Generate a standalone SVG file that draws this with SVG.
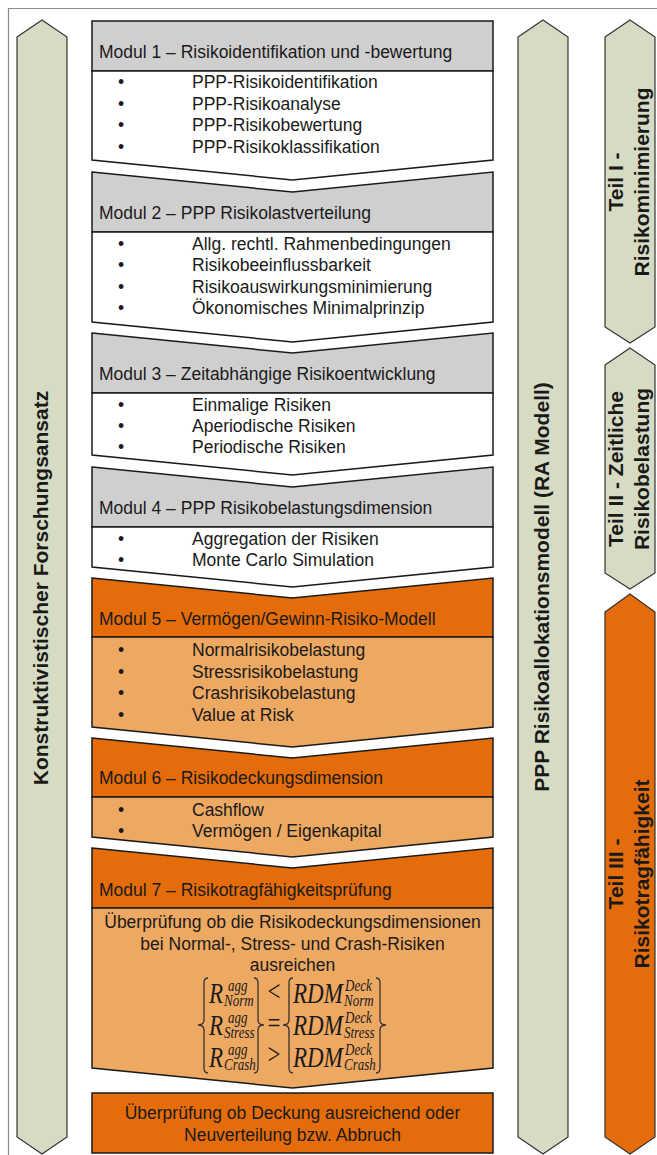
<svg xmlns="http://www.w3.org/2000/svg" width="657" height="1155" viewBox="0 0 657 1155">
  <style>
    .frame{fill:none;stroke:#8c8c8c;stroke-width:1.2}
    .arrow{fill:#d6dbc3;stroke:#333;stroke-width:1.2}
    .arrow-or{fill:#e46c0a;stroke:#333;stroke-width:1.2}
    .hd-gray{fill:#d0cfcf;stroke:#1a1a1a;stroke-width:1.5;stroke-linejoin:miter}
    .bd-white{fill:#fff;stroke:#1a1a1a;stroke-width:1.5}
    .hd-or{fill:#e46c0a;stroke:#1a1a1a;stroke-width:1.5}
    .bd-or{fill:#eda862;stroke:#1a1a1a;stroke-width:1.5}
    text{font-family:"Liberation Sans",Arial,sans-serif;fill:#1a1a1a}
    .t{font-size:17.5px}
    .c{font-size:17.5px;text-anchor:middle}
    .b{font-size:17.5px;text-anchor:middle}
    .rot{font-size:21px;font-weight:bold;text-anchor:middle}
    .m{font-family:"Liberation Serif","Times New Roman",serif;font-style:italic;font-size:23px}
    .ms{font-family:"Liberation Serif","Times New Roman",serif;font-style:italic;font-size:13px}
    .mo{font-family:"Liberation Serif","Times New Roman",serif;font-size:23px;text-anchor:middle}
    .brace{fill:none;stroke:#333;stroke-width:1.3}
  </style>

  <!-- outer frame (only top and left edges fall inside the page) -->
  <path class="frame" d="M8.5,1155 V8.5 H657"/>

  <!-- left column arrow -->
  <g id="forschungsansatz">
    <path class="arrow" d="M17,37 L42,20 L67,37 V1137 L42,1154 L17,1137 Z"/>
    <text class="rot" transform="translate(42,588) rotate(-90)" y="6">Konstruktivistischer Forschungsansatz</text>
  </g>

  <!-- model arrow -->
  <g id="ra-modell">
    <path class="arrow" d="M518,37 L543,20 L568,37 V1137 L543,1154 L518,1137 Z"/>
    <text class="rot" transform="translate(543,587) rotate(-90)" y="6">PPP Risikoallokationsmodell (RA Modell)</text>
  </g>

  <!-- parts -->
  <g id="teil-1">
    <path class="arrow" d="M605,37 L630,20 L655,37 V327 L630,343 L605,327 Z"/>
    <text class="rot" transform="translate(630,182) rotate(-90)"><tspan x="0" y="-7">Teil I -</tspan><tspan x="0" y="19">Risikominimierung</tspan></text>
  </g>
  <g id="teil-2">
    <path class="arrow" d="M605,365 L630,348 L655,365 V573 L630,589 L605,573 Z"/>
    <text class="rot" transform="translate(630,469) rotate(-90)"><tspan x="0" y="-7">Teil II - Zeitliche</tspan><tspan x="0" y="19">Risikobelastung</tspan></text>
  </g>
  <g id="teil-3">
    <path class="arrow-or" d="M605,612 L630,594 L655,612 V1137 L630,1154 L605,1137 Z"/>
    <text class="rot" transform="translate(630,874) rotate(-90)"><tspan x="0" y="-7">Teil III -</tspan><tspan x="0" y="19">Risikotragfähigkeit</tspan></text>
  </g>

  <!-- Modul 1 -->
  <g id="modul-1">
    <path class="hd-gray" d="M92,21 H493 V71 H92 Z"/>
    <path class="bd-white" d="M92,71 H493 V160 L292.5,180 L92,160 Z"/>
    <text class="t" x="99" y="58">Modul 1 – Risikoidentifikation und -bewertung</text>
    <text class="b" x="121" y="88">•</text><text class="t" x="192" y="88">PPP-Risikoidentifikation</text>
    <text class="b" x="121" y="109.5">•</text><text class="t" x="192" y="109.5">PPP-Risikoanalyse</text>
    <text class="b" x="121" y="131">•</text><text class="t" x="192" y="131">PPP-Risikobewertung</text>
    <text class="b" x="121" y="152.5">•</text><text class="t" x="192" y="152.5">PPP-Risikoklassifikation</text>
  </g>

  <!-- Modul 2 -->
  <g id="modul-2">
    <path class="hd-gray" d="M92,172 L292.5,192 L493,172 V232 H92 Z"/>
    <path class="bd-white" d="M92,232 H493 V322 L292.5,342 L92,322 Z"/>
    <text class="t" x="99" y="219">Modul 2 – PPP Risikolastverteilung</text>
    <text class="b" x="121" y="249.5">•</text><text class="t" x="192" y="249.5">Allg. rechtl. Rahmenbedingungen</text>
    <text class="b" x="121" y="271">•</text><text class="t" x="192" y="271">Risikobeeinflussbarkeit</text>
    <text class="b" x="121" y="292.5">•</text><text class="t" x="192" y="292.5">Risikoauswirkungsminimierung</text>
    <text class="b" x="121" y="314">•</text><text class="t" x="192" y="314">Ökonomisches Minimalprinzip</text>
  </g>

  <!-- Modul 3 -->
  <g id="modul-3">
    <path class="hd-gray" d="M92,333 L292.5,353 L493,333 V393 H92 Z"/>
    <path class="bd-white" d="M92,393 H493 V455 L292.5,475 L92,455 Z"/>
    <text class="t" x="99" y="380">Modul 3 – Zeitabhängige Risikoentwicklung</text>
    <text class="b" x="121" y="411">•</text><text class="t" x="192" y="411">Einmalige Risiken</text>
    <text class="b" x="121" y="432">•</text><text class="t" x="192" y="432">Aperiodische Risiken</text>
    <text class="b" x="121" y="453">•</text><text class="t" x="192" y="453">Periodische Risiken</text>
  </g>

  <!-- Modul 4 -->
  <g id="modul-4">
    <path class="hd-gray" d="M92,467 L292.5,487 L493,467 V527 H92 Z"/>
    <path class="bd-white" d="M92,527 H493 V567 L292.5,587 L92,567 Z"/>
    <text class="t" x="99" y="514">Modul 4 – PPP Risikobelastungsdimension</text>
    <text class="b" x="121" y="545">•</text><text class="t" x="192" y="545">Aggregation der Risiken</text>
    <text class="b" x="121" y="566">•</text><text class="t" x="192" y="566">Monte Carlo Simulation</text>
  </g>

  <!-- Modul 5 -->
  <g id="modul-5">
    <path class="hd-or" d="M92,578 L292.5,598 L493,578 V637 H92 Z"/>
    <path class="bd-or" d="M92,637 H493 V727 L292.5,747 L92,727 Z"/>
    <text class="t" x="99" y="625">Modul 5 – Vermögen/Gewinn-Risiko-Modell</text>
    <text class="b" x="121" y="656">•</text><text class="t" x="192" y="656">Normalrisikobelastung</text>
    <text class="b" x="121" y="677.5">•</text><text class="t" x="192" y="677.5">Stressrisikobelastung</text>
    <text class="b" x="121" y="699">•</text><text class="t" x="192" y="699">Crashrisikobelastung</text>
    <text class="b" x="121" y="720.5">•</text><text class="t" x="192" y="720.5">Value at Risk</text>
  </g>

  <!-- Modul 6 -->
  <g id="modul-6">
    <path class="hd-or" d="M92,738 L292.5,758 L493,738 V797 H92 Z"/>
    <path class="bd-or" d="M92,797 H493 V837 L292.5,857 L92,837 Z"/>
    <text class="t" x="99" y="784">Modul 6 – Risikodeckungsdimension</text>
    <text class="b" x="121" y="816">•</text><text class="t" x="192" y="816">Cashflow</text>
    <text class="b" x="121" y="837">•</text><text class="t" x="192" y="837">Vermögen / Eigenkapital</text>
  </g>

  <!-- Modul 7 -->
  <g id="modul-7">
    <path class="hd-or" d="M92,848 L292.5,868 L493,848 V908 H92 Z"/>
    <path class="bd-or" d="M92,908 H493 V1068 L292.5,1088 L92,1068 Z"/>
    <text class="t" x="99" y="896">Modul 7 – Risikotragfähigkeitsprüfung</text>
    <text class="c" x="292.5" y="928">Überprüfung ob die Risikodeckungsdimensionen</text>
    <text class="c" x="292.5" y="949.5">bei Normal-, Stress- und Crash-Risiken</text>
    <text class="c" x="292.5" y="971">ausreichen</text>

    <!-- condition matrix: aggregated risk vs. coverage -->
    <g id="formel">
      <path class="brace" d="M208,978 Q204,978 204,983 V1020 Q204,1025 198,1025 Q204,1025 204,1030 V1068 Q204,1073 208,1073"/>
      <path class="brace" d="M254,978 Q258,978 258,983 V1020 Q258,1025 264,1025 Q258,1025 258,1030 V1068 Q258,1073 254,1073"/>
      <path class="brace" d="M293,978 Q289,978 289,983 V1020 Q289,1025 283,1025 Q289,1025 289,1030 V1068 Q289,1073 293,1073"/>
      <path class="brace" d="M376,978 Q380,978 380,983 V1020 Q380,1025 386,1025 Q380,1025 380,1030 V1068 Q380,1073 376,1073"/>
      <g transform="translate(0,1025) scale(1,1.3)">
        <text class="m" x="209" y="-16.9">R</text>
        <text class="ms" x="228" y="-26.2">agg</text>
        <text class="ms" x="224" y="-14.6">Norm</text>
        <text class="m" x="209" y="7.7">R</text>
        <text class="ms" x="228" y="-1.5">agg</text>
        <text class="ms" x="224" y="10">Stress</text>
        <text class="m" x="209" y="32.3">R</text>
        <text class="ms" x="228" y="23.1">agg</text>
        <text class="ms" x="224" y="34.6">Crash</text>

        <text class="mo" x="274" y="-18.5">&lt;</text>
        <text class="mo" x="274" y="6.2">=</text>
        <text class="mo" x="274" y="30">&gt;</text>

        <text class="m" x="293" y="-16.9">RDM</text>
        <text class="ms" x="345" y="-26.2">Deck</text>
        <text class="ms" x="344" y="-14.6">Norm</text>
        <text class="m" x="293" y="7.7">RDM</text>
        <text class="ms" x="345" y="-1.5">Deck</text>
        <text class="ms" x="344" y="10">Stress</text>
        <text class="m" x="293" y="32.3">RDM</text>
        <text class="ms" x="345" y="23.1">Deck</text>
        <text class="ms" x="344" y="34.6">Crash</text>
      </g>
    </g>
  </g>

  <!-- final check -->
  <g id="abschluss">
    <rect class="hd-or" x="92" y="1093" width="401" height="60"/>
    <text class="c" x="292.5" y="1119">Überprüfung ob Deckung ausreichend oder</text>
    <text class="c" x="292.5" y="1141">Neuverteilung bzw. Abbruch</text>
  </g>
</svg>
